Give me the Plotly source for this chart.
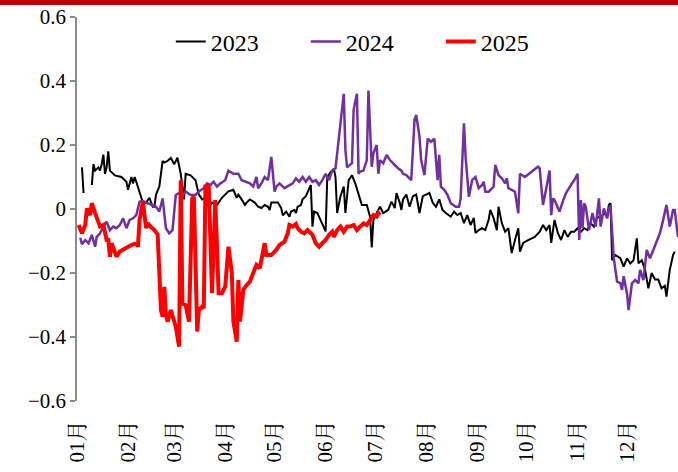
import pandas as pd
import plotly.graph_objects as go

# day offsets from 1 Jan (same calendar positions for every year)
days_2023 = [3, 4, None, 9, 10, 11, 13, 14, 15, 16, 17, 18, 19, 20, 23, 27, 30, 31, 32, 33, 34, 35, 36, 37, 39, 40, 42, 44, 46, 47, 48, 50,
             52, 53, 55, 57, 59, 61, 63, 65, 66, 69, 72, 74, 76, 78, 80, 82, 85, 88, 92, 95, 97, 98, 100, 102, 103, 105, 108, 110,
             112, 114, 116, 117, 118, 120, 122, 124, 125, 127, 129, 130, 132, 133, 134, 136, 137, 139, 141, 142, 143, 144, 146, 148,
             150, 151, 152, 154, 156, 157, 158, 160, 162, 163, 165, 167, 169, 171, 173, 176, 178, 179, 180, 182, 184, 186, 189, 191,
             193, 194, 196, 197, 198, 200, 202, 204, 206, 208, 210, 212, 214, 216, 218, 220, 222, 224, 227, 229, 231, 233, 235, 237,
             239, 241, 242, 244, 246, 248, 250, 251, 253, 255, 256, 258, 260, 262, 264, 266, 268, 269, 271, 274, 278, 281, 283, 285,
             287, 288, 290, 292, 294, 296, 298, 300, 302, 304, 306, 308, 310, 312, 314, 316, 318, 320, 322, 323, 324, 325, 327, 330,
             332, 334, 336, 338, 340, 341, 343, 345, 347, 349, 351, 353, 355, 357, 358, 360, 362, 363]
vals_2023 = [0.13, 0.05, None, 0.075, 0.14, 0.12, 0.13, 0.12, 0.14, 0.17, 0.11, 0.13, 0.18, 0.12, 0.105, 0.10, 0.085, 0.06, 0.085, 0.10,
             0.08, 0.10, 0.085, 0.07, 0.035, 0.02, 0.02, 0.035, 0.007, 0.007, 0.045, 0.07,
             0.15, 0.145, 0.15, 0.16, 0.14, 0.16, 0.11, 0.03, 0.11, 0.105, 0.09, 0.045, 0.03, 0.035, 0.007, 0.02, 0.0125, 0.035, 0.055,
             0.06, 0.035, 0.045, 0.03, 0.0125, 0.02, 0.03, 0.02, 0.007,
             0.003, 0.0125, 0.007, -0.003, 0.02, 0.02, 0.02, 0.003, -0.02, -0.008, -0.024, -0.008, -0.003, -0.0125, 0.007, 0.0125, 0.03,
             0.04, 0.06, 0.075, -0.055, -0.008, -0.0125, -0.035,
             -0.06, -0.07, 0.10, 0.115, 0.125, 0.10, -0.0125, 0.04, 0.07, -0.0125, 0.09, 0.105, 0.08, 0.045, 0.0125, 0.0125, -0.024,
             -0.12, -0.035, -0.0125, 0.007, -0.0125, -0.003, 0.023,
             0.003, 0.05, 0.02, -0.003, 0.03, 0.045, 0.007, 0.04, 0.045, -0.0125, 0.04, 0.045, 0.05, 0.02, 0.007, 0.03, -0.003, -0.0125,
             -0.024, -0.008, -0.019, -0.0125, -0.044, -0.019,
             -0.05, -0.028, -0.075, -0.066, -0.06, -0.066, -0.034, -0.003, -0.028, -0.066, 0.007, -0.044, -0.071, -0.06, -0.1375, -0.097,
             -0.06, -0.133, -0.106, -0.097, -0.087, -0.071, -0.05, -0.066,
             -0.05, -0.106, -0.034, -0.075, -0.097, -0.066, -0.087, -0.071, -0.071, -0.06, -0.071, -0.06, -0.066, -0.045, -0.055, -0.024,
             -0.029, -0.013, -0.024, 0.0125, 0.018, -0.16, -0.144, -0.154,
             -0.18, -0.154, -0.17, -0.16, -0.092, -0.17, -0.16, -0.19, -0.248, -0.20, -0.22, -0.22, -0.248, -0.24, -0.274, -0.19, -0.144,
             -0.133]

days_2024 = [2, 3, 5, 7, 9, 11, 12, 14, 16, 18, 20, 22, 24, 26, 28, 30, 32, 34, 36, 38, 40, 43, 46, 48, 50, 52, 54, 56, 58, 60, 62, 64,
             66, 69, 72, 74, 77, 79, 81, 83, 85, 87, 90, 92, 95, 98, 100, 103, 105, 107, 109, 110, 112, 114, 116, 118, 120, 121, 123,
             126, 128, 131, 133, 135, 137, 139, 141, 143, 145, 147, 149, 151, 153, 155, 157, 159, 161, 162, 163, 164, 167, 168, 170,
             171, 172, 174, 176, 177, 179, 180, 182, 183, 184, 186, 188, 190, 193, 195, 197, 198, 200, 203, 205, 206, 208, 209, 211,
             213, 215, 217, 219, 220, 221, 223, 225, 227, 230, 232, 233, 235, 236, 238, 240, 242, 244, 246, 247, 248, 250, 252, 253,
             254, 256, 258, 260, 261, 262, 264, 266, 268, 269, 272, 276, 280, 281, 283, 285, 287, 288, 289, 290, 292, 293, 295, 297,
             300, 302, 304, 305, 306, 307, 308, 309, 311, 312, 313, 315, 317, 318, 320, 322, 323, 324, 326, 328, 330, 331, 332, 334,
             335, 337, 339, 341, 342, 344, 346, 348, 350, 352, 354, 356, 358, 360, 362, 363, 365]
vals_2024 = [-0.09, -0.11, -0.097, -0.107, -0.081, -0.118, -0.087, -0.076, -0.055, -0.04, -0.066, -0.055, -0.06, -0.05, -0.029, -0.06,
             -0.034, -0.029, -0.019, 0.023, 0.025, 0.018, 0.0125, 0.007, -0.008, 0.033, -0.06, -0.076, -0.066, 0.044, 0.05, 0.04,
             0.055, 0.044, 0.044, 0.055, 0.065, 0.08, 0.075, 0.085, 0.07, 0.08, 0.09, 0.12, 0.11, 0.11, 0.09, 0.085, 0.08, 0.07, 0.10,
             0.065, 0.08, 0.10, 0.09, 0.163, 0.054, 0.07, 0.08,
             0.065, 0.07, 0.08, 0.096, 0.085, 0.10, 0.085, 0.10, 0.085, 0.09, 0.075, 0.09, 0.11, 0.09, 0.12, 0.127, 0.215, 0.31, 0.36,
             0.185, 0.13, 0.143, 0.31, 0.36,
             0.11, 0.117, 0.12, 0.153, 0.37, 0.132, 0.174, 0.20, 0.11, 0.153, 0.143, 0.169, 0.153, 0.1375, 0.127, 0.12, 0.11, 0.106,
             0.09, 0.28, 0.294, 0.226, 0.153, 0.106,
             0.22, 0.21, 0.22, 0.09, 0.169, 0.07, 0.06, 0.044, 0.018, 0.007, 0.007, 0.033, 0.268, 0.163, 0.038, 0.09, 0.10, 0.065,
             0.075, 0.085, 0.054, 0.054, 0.065, 0.07,
             0.1375, 0.106, 0.096, 0.08, 0.096, 0.065, 0.06, 0.054, -0.0135, 0.11, 0.10, 0.117, 0.132, 0.127, 0.0125, 0.065, 0.12,
             -0.019, 0.033, 0.028, 0.007, -0.008, 0.023, 0.05,
             0.075, 0.09, 0.11, -0.097, 0.028, -0.06, 0.018, 0.007, -0.066, -0.034, -0.013, -0.055, 0.033, -0.055, 0.002, -0.029,
             0.002, 0.0125, -0.154, -0.227, -0.232, -0.253, -0.21, -0.263,
             -0.316, -0.232, -0.222, -0.232, -0.19, -0.222, -0.128, -0.154, -0.128, -0.107, -0.076, -0.034, 0.0125, -0.055, -0.003,
             -0.003, -0.087]

days_2025 = [1, 2, 3, 5, 6, 8, 9, 11, 13, 14, 16, 18, 19, 20, 21, 23, 24, 26, 29, 33, 36, 37, 38, 39, 40, 42, 43, 45, 47, 49, 51, 52,
             53, 54, 55, 57, 60, 62, 63, 64, 66, 67, 68, 70, 71, 73, 74, 76, 77, 78, 80, 82, 84, 86, 88, 90, 92, 94, 95, 97, 98, 99,
             101, 103, 105, 107, 109, 111, 112, 114, 115, 118, 121, 123, 126, 128, 129, 131, 133, 134, 136, 138, 140, 143, 145, 147,
             149, 151, 153, 155, 156, 158, 160, 162, 164, 166, 168, 170, 172, 174, 176, 178, 180, 182, 183, 184]
vals_2025 = [-0.05, -0.066, -0.076, -0.05, 0.002, -0.019, 0.018, -0.013, -0.045, -0.055, -0.05, -0.097, -0.097, -0.149, -0.107,
             -0.138, -0.149, -0.133, -0.123, -0.1125, -0.107, -0.118, -0.034, 0.007, 0.023, -0.06, -0.045, -0.057, -0.066, -0.08,
             -0.316, -0.337,
             -0.243, -0.326, -0.352, -0.316, -0.368, -0.43, 0.09, -0.295, -0.30, -0.326, -0.352, 0.033, 0.038, -0.383, -0.316, -0.305,
             -0.31, 0.07, 0.07, -0.263, 0.028, -0.263, -0.263, -0.243, -0.118, -0.20, -0.352, -0.415, -0.222, -0.352,
             -0.253, -0.2375, -0.227, -0.20, -0.175, -0.185, -0.16, -0.107, -0.144, -0.144, -0.128, -0.1125, -0.102, -0.076, -0.05,
             -0.055, -0.047, -0.06, -0.071, -0.076, -0.066, -0.081, -0.107, -0.118,
             -0.107, -0.097, -0.081, -0.071, -0.087, -0.066, -0.055, -0.071, -0.055, -0.055, -0.05, -0.066, -0.055, -0.045, -0.05,
             -0.034, -0.019, -0.024, -0.013, -0.019]

series_names = ["2023", "2024", "2025"]
series_colors = ["#000000", "#7030A0", "#FF0000"]
series_widths = [2, 2.5, 4]

base = pd.Timestamp("2023-01-01")


def to_dates(days):
    return [None if d is None else base + pd.Timedelta(days=d) for d in days]


month_ticks = pd.date_range("2023-01-01", "2023-12-01", freq="MS")
x_range = [base, pd.Timestamp("2024-01-01")]

fig = go.Figure()
for name, days, vals, col, w in zip(series_names, [days_2023, days_2024, days_2025],
                                    [vals_2023, vals_2024, vals_2025], series_colors, series_widths):
    fig.add_trace(go.Scatter(x=to_dates(days), y=vals, mode="lines", name=name,
                             line=dict(color=col, width=w), connectgaps=False))

font_fam = "Liberation Serif, Noto Serif CJK SC"

fig.update_layout(
    width=678, height=472,
    margin=dict(l=77, r=0, t=17, b=71),
    paper_bgcolor="white", plot_bgcolor="white",
    font=dict(family=font_fam, size=18, color="#000000"),
    showlegend=True,
    legend=dict(orientation="h", x=0.493, xanchor="center", y=0.935, yanchor="middle",
                font=dict(size=24, family=font_fam), entrywidth=90, entrywidthmode="pixels",
                bgcolor="rgba(0,0,0,0)"),
    xaxis=dict(type="date", range=x_range, tickvals=month_ticks, tickformat="%m月",
               tickangle=-90, showgrid=False, showline=False, zeroline=False,
               ticks="outside", ticklen=10, tickcolor="rgba(0,0,0,0)",
               tickfont=dict(size=21, family=font_fam)),
    xaxis2=dict(type="date", range=x_range, overlaying="x", anchor="free", position=0.5,
                tickvals=month_ticks, showticklabels=False, showgrid=False, zeroline=False,
                showline=True, linecolor="#D9D9D9", linewidth=2,
                ticks="outside", ticklen=6, tickwidth=2, tickcolor="#D9D9D9", layer="below traces"),
    yaxis=dict(range=[-0.6, 0.6], tickvals=[-0.6, -0.4, -0.2, 0, 0.2, 0.4, 0.6],
               ticktext=["−0.6", "−0.4", "−0.2", "0", "0.2", "0.4", "0.6"],
               showgrid=False, zeroline=False, showline=True, linecolor="#8C8C8C", linewidth=1.5,
               ticks="outside", ticklen=5, tickcolor="#8C8C8C", tickwidth=1.5,
               tickfont=dict(size=21, family=font_fam)),
    shapes=[dict(type="rect", xref="paper", yref="paper", x0=-0.2, x1=1.05, y0=1.031, y1=1.06,
                 fillcolor="#C00000", line=dict(width=0), layer="above")],
)

fig.write_html("out.html", config={"displayModeBar": False},
               post_script="document.body.style.margin='0';document.body.style.overflow='hidden';")
